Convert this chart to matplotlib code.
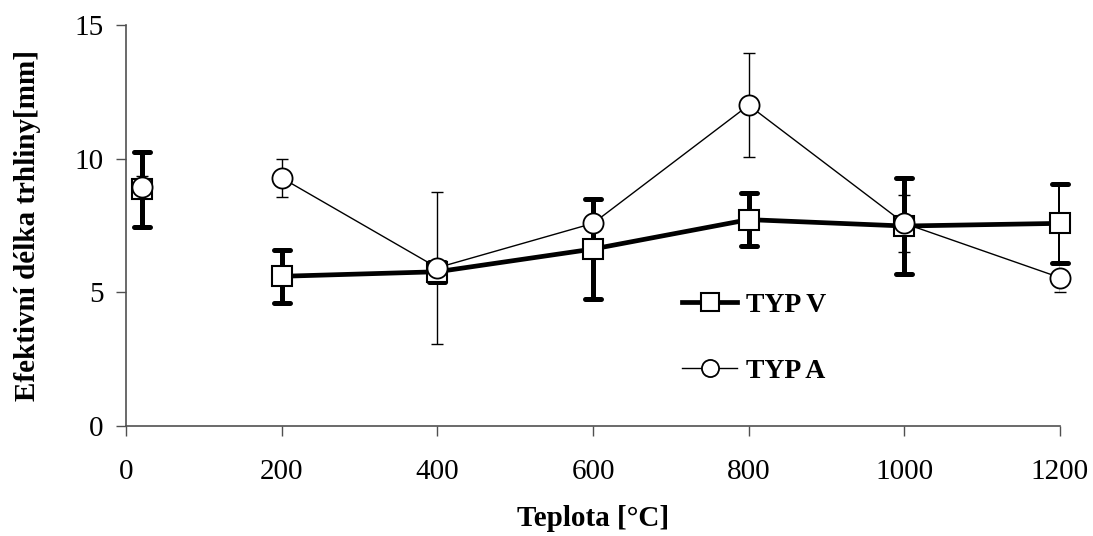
import matplotlib
matplotlib.use("Agg")
import matplotlib.pyplot as plt
from matplotlib.markers import MarkerStyle

plt.rcParams['font.family'] = ['Liberation Serif', 'DejaVu Serif']

# values
temp = [20, 200, 400, 600, 800, 1000, 1200]
typ_v = [8.85, 5.6, 5.77, 6.62, 7.72, 7.48, 7.58]
typ_v_err = [1.4, 1.0, 0.37, 1.87, 1.0, 1.8, 1.49]
typ_a = [8.95, 9.28, 5.92, 7.58, 12.0, 7.58, 5.55]
typ_a_err = [0.4, 0.7, 2.85, 0.95, 1.95, 1.06, 0.53]

fig = plt.figure(figsize=(10.93, 5.36), dpi=100)
ax = fig.add_axes([0.1153, 0.2052, 0.8545, 0.7482])

axis_col = '#505050'

# error bars (drawn below lines and markers)
eb_v = ax.errorbar(temp, typ_v, yerr=typ_v_err, fmt='none', ecolor='black',
                   elinewidth=3.6, capsize=5.5, capthick=3.6, zorder=2)
for cl in eb_v[1]:
    cl.set_marker(MarkerStyle('_', capstyle='round'))
    cl.set_clip_on(False)
eb_a = ax.errorbar(temp, typ_a, yerr=typ_a_err, fmt='none', ecolor='black',
                   elinewidth=1.0, capsize=4, capthick=1.0, zorder=2)
for cl in eb_a[1]:
    cl.set_clip_on(False)

# TYP V: thick line from 200 on, the 20 °C point stands alone
line_v, = ax.plot(temp[1:], typ_v[1:], color='black', lw=3.4, marker='s', ms=14.5,
                  mfc='white', mec='black', mew=1.5, zorder=4, clip_on=False,
                  label='TYP V')
ax.plot(temp[:1], typ_v[:1], ls='none', marker='s', ms=14.5, mfc='white',
        mec='black', mew=1.5, zorder=4, clip_on=False)

line_a, = ax.plot(temp[1:], typ_a[1:], color='black', lw=1.0, marker='o', ms=14.5,
                  mfc='white', mec='black', mew=1.3, zorder=5, clip_on=False,
                  label='TYP A')
ax.plot(temp[:1], typ_a[:1], ls='none', marker='o', ms=14.5, mfc='white',
        mec='black', mew=1.3, zorder=5, clip_on=False)

ax.set_xlim(0, 1200)
ax.set_ylim(0, 15)
ax.set_xticks([0, 200, 400, 600, 800, 1000, 1200])
ax.set_yticks([0, 5, 10, 15])

for side in ['top', 'right']:
    ax.spines[side].set_visible(False)
for side in ['left', 'bottom']:
    ax.spines[side].set_color(axis_col)
    ax.spines[side].set_linewidth(1.2)

ax.tick_params(axis='both', direction='out', length=7, width=1.0,
               color=axis_col, labelsize=21)
ax.tick_params(axis='x', pad=17)
ax.tick_params(axis='y', pad=9)

ax.set_xlabel('Teplota [°C]', fontsize=21, fontweight='bold', labelpad=14)
ax.set_ylabel('Efektivní délka trhliny[mm]', fontsize=21, fontweight='bold',
              labelpad=24)

ax.legend(handles=[line_v, line_a], loc='center left',
          bbox_to_anchor=(0.595, 0.219), frameon=False,
          prop={'weight': 'bold', 'size': 20}, handlelength=2.0,
          handletextpad=0.3, labelspacing=1.45, borderpad=0,
          borderaxespad=0, markerscale=0.85)

fig.savefig('out.png', dpi=100)
